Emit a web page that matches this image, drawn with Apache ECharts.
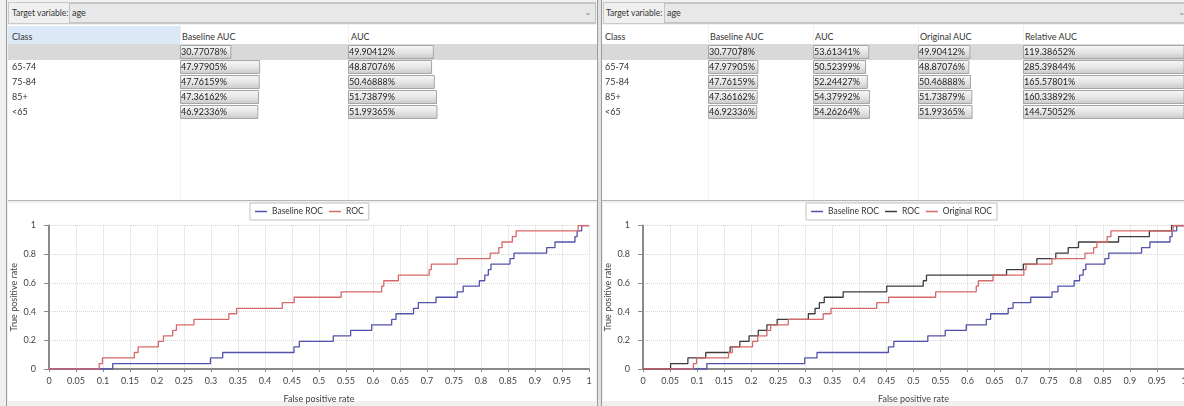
<!DOCTYPE html>
<html>
<head>
<meta charset="utf-8">
<script src="https://cdn.jsdelivr.net/npm/echarts@6/dist/echarts.min.js"></script>
<style>
  html,body{margin:0;padding:0;background:#f0f0f0;font-family:Lato,"Open Sans",sans-serif;}
  #stage{position:relative;width:1184px;height:406px;overflow:hidden;background:#f0f0f0;}
  .abs{position:absolute;box-sizing:border-box;}
  .txt{position:absolute;font-size:9px;color:#333;white-space:nowrap;line-height:12px;}
  .lbl{font-size:8.5px;}
  .chart{position:absolute;top:0;height:406px;}
</style>
</head>
<body>
<div id="stage">
  <!-- left panel chrome -->
  <div class="abs" style="left:6px;top:0;width:1px;height:406px;background:#9a9a9a"></div>
  <div class="abs" style="left:8px;top:2px;width:588px;height:22px;border:1px solid #c9c9c9;background:#f0f0f0"></div>
  <div class="abs" style="left:69px;top:3px;width:527px;height:20px;border:1px solid #c3c3c3;background:#e8e8e8"></div>
  <div class="txt lbl" style="left:12px;top:7px;">Target variable:</div>
  <div class="txt" style="left:72px;top:7px;">age</div>
  <div class="txt" style="left:584px;top:6px;color:#888;">&#8964;</div>
  <div class="abs" style="left:8px;top:25px;width:589px;height:175px;background:#fff"></div>
  <div class="abs" style="left:8px;top:26px;width:172px;height:18px;background:#dbe9f7"></div>
  <div class="txt" style="left:12px;top:31px;">Class</div>
  <div class="txt" style="left:182px;top:31px;">Baseline AUC</div>
  <div class="txt" style="left:351px;top:31px;">AUC</div>
  <div class="abs" style="left:8px;top:44px;width:589px;height:16px;background:#d9d9d9"></div>
  <div class="abs" style="left:180px;top:26px;width:1px;height:174px;background:#f1f1f1"></div>
  <div class="abs" style="left:348px;top:26px;width:1px;height:174px;background:#f1f1f1"></div>
  <div class="abs" style="left:8px;top:200px;width:589px;height:1px;background:#b5b5b5"></div>
  <div class="abs" style="left:8px;top:203px;width:588px;height:198px;background:#fff"></div>

  <!-- separator -->
  <div class="abs" style="left:597px;top:0;width:1px;height:406px;background:#9a9a9a"></div>
  <div class="abs" style="left:598px;top:0;width:3px;height:406px;background:#e2e2e2"></div>
  <div class="abs" style="left:601px;top:0;width:1px;height:406px;background:#9a9a9a"></div>

  <!-- right panel chrome -->
  <div class="abs" style="left:603px;top:2px;width:590px;height:22px;border:1px solid #c9c9c9;background:#f0f0f0"></div>
  <div class="abs" style="left:664px;top:3px;width:530px;height:20px;border:1px solid #c3c3c3;background:#e8e8e8"></div>
  <div class="txt lbl" style="left:606px;top:7px;">Target variable:</div>
  <div class="txt" style="left:667px;top:7px;">age</div>
  <div class="txt" style="left:1178px;top:6px;color:#888;">&#8964;</div>
  <div class="abs" style="left:602px;top:25px;width:582px;height:175px;background:#fff"></div>
  <div class="txt" style="left:605px;top:31px;">Class</div>
  <div class="txt" style="left:710px;top:31px;">Baseline AUC</div>
  <div class="txt" style="left:815px;top:31px;">AUC</div>
  <div class="txt" style="left:920px;top:31px;">Original AUC</div>
  <div class="txt" style="left:1025px;top:31px;">Relative AUC</div>
  <div class="abs" style="left:602px;top:44px;width:582px;height:16px;background:#d9d9d9"></div>
  <div class="abs" style="left:708px;top:26px;width:1px;height:174px;background:#f1f1f1"></div>
  <div class="abs" style="left:813px;top:26px;width:1px;height:174px;background:#f1f1f1"></div>
  <div class="abs" style="left:918px;top:26px;width:1px;height:174px;background:#f1f1f1"></div>
  <div class="abs" style="left:1023px;top:26px;width:1px;height:174px;background:#f1f1f1"></div>
  <div class="abs" style="left:602px;top:200px;width:582px;height:1px;background:#b5b5b5"></div>
  <div class="abs" style="left:603px;top:203px;width:581px;height:198px;background:#fff"></div>

  <div id="left" class="chart" style="left:0;width:600px;"></div>
  <div id="right" class="chart" style="left:600px;width:584px;"></div>
</div>
<script>
// ---------- data ----------
const classes = ['', '65-74', '75-84', '85+', '<65'];
const baselineAUC = [30.77078, 47.97905, 47.76159, 47.36162, 46.92336];
const aucLeft = [49.90412, 48.87076, 50.46888, 51.73879, 51.99365];
const aucRight = [53.61341, 50.52399, 52.24427, 54.37992, 54.26264];
const originalAUC = [49.90412, 48.87076, 50.46888, 51.73879, 51.99365];
const relativeAUC = [119.38652, 285.39844, 165.57801, 160.33892, 144.75052];

// ROC curves (false positive rate, true positive rate)
const baselineFpr = [0, 0.118, 0.299, 0.3216, 0.4537, 0.4636, 0.5265, 0.5586, 0.5975, 0.6346, 0.6426, 0.675, 0.684, 0.7167, 0.756, 0.767, 0.797, 0.807, 0.8136, 0.8185, 0.8537, 0.861, 0.9216, 0.937, 0.974, 0.978, 0.9864, 1];
const baselineTpr = [0, 0.038, 0.077, 0.115, 0.154, 0.192, 0.231, 0.269, 0.308, 0.346, 0.385, 0.423, 0.462, 0.5, 0.538, 0.577, 0.615, 0.654, 0.692, 0.731, 0.769, 0.808, 0.846, 0.885, 0.923, 0.962, 1, 1];
const origFpr = [0, 0.093, 0.099, 0.158, 0.165, 0.2025, 0.212, 0.229, 0.236, 0.2685, 0.333, 0.3475, 0.432, 0.454, 0.541, 0.616, 0.62, 0.647, 0.704, 0.708, 0.756, 0.817, 0.833, 0.839, 0.858, 0.865, 0.98, 1];
const origTpr = [0, 0.038, 0.077, 0.115, 0.154, 0.192, 0.231, 0.269, 0.308, 0.346, 0.385, 0.423, 0.462, 0.5, 0.538, 0.577, 0.615, 0.654, 0.692, 0.731, 0.769, 0.808, 0.846, 0.885, 0.923, 0.962, 1, 1];
const newFpr = [0, 0.051, 0.083, 0.116, 0.161, 0.179, 0.196, 0.213, 0.229, 0.248, 0.3056, 0.318, 0.326, 0.335, 0.370, 0.4505, 0.518, 0.524, 0.672, 0.703, 0.728, 0.763, 0.786, 0.805, 0.879, 0.936, 0.977, 1];
const newTpr = [0, 0.038, 0.077, 0.115, 0.154, 0.192, 0.231, 0.269, 0.308, 0.346, 0.385, 0.423, 0.462, 0.5, 0.538, 0.577, 0.615, 0.654, 0.692, 0.731, 0.769, 0.808, 0.846, 0.885, 0.923, 0.962, 1, 1];

// ---------- helpers ----------
const FONT = 'Lato,"Open Sans",sans-serif';
const BLUE = '#5252aa', RED = '#d66a6a', BLACK = '#3c3c3c';
function zip(a, b) { return a.map((v, i) => [v, b[i]]); }
const barGrad = {type:'linear', x:0, y:0, x2:0, y2:1, colorStops:[{offset:0,color:'#f8f8f8'},{offset:0.5,color:'#e6e6e6'},{offset:1,color:'#c9c9c9'}]};
function barSeries(values, idx) {
  return {
    type:'bar', xAxisIndex:idx, yAxisIndex:idx, data:values, barWidth:14, silent:true, clip:true,
    itemStyle:{color:barGrad, borderColor:'#a6a6a6', borderWidth:1},
    label:{show:true, position:'insideLeft', distance:1, color:'#1c1c1c', fontSize:9, fontFamily:FONT,
      formatter:p => p.value.toFixed(5) + '%'}
  };
}
function barGrid(left, width) { return {left:left, top:44.5, width:width, height:75, outerBoundsMode:'none', containLabel:false}; }
function barX(idx, max) { return {gridIndex:idx, type:'value', min:0, max:max, show:false, splitLine:{show:false}}; }
function barY(idx, showLabels) {
  return {gridIndex:idx, type:'category', data:classes, inverse:true,
    axisLine:{show:false}, axisTick:{show:false}, splitLine:{show:false},
    axisLabel:{show:!!showLabels, align:'left', margin:showLabels ? showLabels : 0, color:'#333', fontSize:9, fontFamily:FONT}};
}
function rocX(idx) {
  return {gridIndex:idx, type:'value', min:0, max:1, interval:0.05,
    name:'False positive rate', nameLocation:'middle', nameGap:26, nameMoveOverlap:false,
    nameTextStyle:{color:'#444', fontSize:9, fontFamily:FONT},
    axisLine:{lineStyle:{color:'#8a8a8a', width:2}},
    axisTick:{show:true, length:3, lineStyle:{color:'#8a8a8a'}},
    axisLabel:{color:'#444', fontSize:9, fontFamily:FONT, margin:8, showMinLabel:true, showMaxLabel:true, hideOverlap:false},
    splitLine:{show:true, lineStyle:{color:'#d4d4d4', type:'dotted'}}};
}
function rocY(idx) {
  return {gridIndex:idx, type:'value', min:0, max:1, interval:0.2, offset:6,
    name:'True positive rate', nameLocation:'middle', nameGap:24, nameRotate:90, nameMoveOverlap:false,
    nameTextStyle:{color:'#444', fontSize:9, fontFamily:FONT},
    axisLine:{show:true, lineStyle:{color:'#8a8a8a', width:2}},
    axisTick:{show:true, length:5, lineStyle:{color:'#8a8a8a'}},
    axisLabel:{color:'#444', fontSize:9, fontFamily:FONT, margin:7},
    splitLine:{show:true, lineStyle:{color:'#d4d4d4', type:'dotted'}}};
}
function rocSeries(name, fpr, tpr, color, idx) {
  return {name:name, type:'line', xAxisIndex:idx, yAxisIndex:idx, step:'end', showSymbol:false, silent:true,
    data:zip(fpr, tpr), lineStyle:{color:color, width:1.3}, itemStyle:{color:color}};
}
function legend(left, names) {
  return {left:left, top:203, data:names, icon:'rect', itemWidth:12, itemHeight:1.5, itemGap:6,
    padding:[4,5], backgroundColor:'#fff', borderColor:'#c2c2c2', borderWidth:1,
    textStyle:{color:'#333', fontSize:8.5, fontFamily:FONT}};
}

// ---------- left panel ----------
const leftChart = echarts.init(document.getElementById('left'), null, {renderer:'canvas'});
leftChart.setOption({
  animation:false,
  grid:[barGrid(180, 167), barGrid(348, 172),
        {left:49, top:225.5, width:540, height:143.5, outerBoundsMode:'none', containLabel:false}],
  xAxis:[barX(0, 100), barX(1, 100), rocX(2)],
  yAxis:[barY(0, 168), barY(1, false), rocY(2)],
  legend:legend(250, ['Baseline ROC', 'ROC']),
  series:[
    barSeries(baselineAUC, 0),
    barSeries(aucLeft, 1),
    rocSeries('Baseline ROC', baselineFpr, baselineTpr, BLUE, 2),
    rocSeries('ROC', origFpr, origTpr, RED, 2)
  ]
});

// ---------- right panel ----------
const rightChart = echarts.init(document.getElementById('right'), null, {renderer:'canvas'});
rightChart.setOption({
  animation:false,
  grid:[barGrid(108, 105), barGrid(213, 105), barGrid(318, 105), barGrid(423, 161),
        {left:43, top:225.5, width:541, height:143.5, outerBoundsMode:'none', containLabel:false}],
  xAxis:[barX(0, 100), barX(1, 100), barX(2, 100), barX(3, 100), rocX(4)],
  yAxis:[barY(0, 103), barY(1, false), barY(2, false), barY(3, false), rocY(4)],
  legend:legend(206, ['Baseline ROC', 'ROC', 'Original ROC']),
  series:[
    barSeries(baselineAUC, 0),
    barSeries(aucRight, 1),
    barSeries(originalAUC, 2),
    barSeries(relativeAUC, 3),
    rocSeries('Baseline ROC', baselineFpr, baselineTpr, BLUE, 4),
    rocSeries('ROC', newFpr, newTpr, BLACK, 4),
    rocSeries('Original ROC', origFpr, origTpr, RED, 4)
  ]
});
</script>
</body>
</html>
